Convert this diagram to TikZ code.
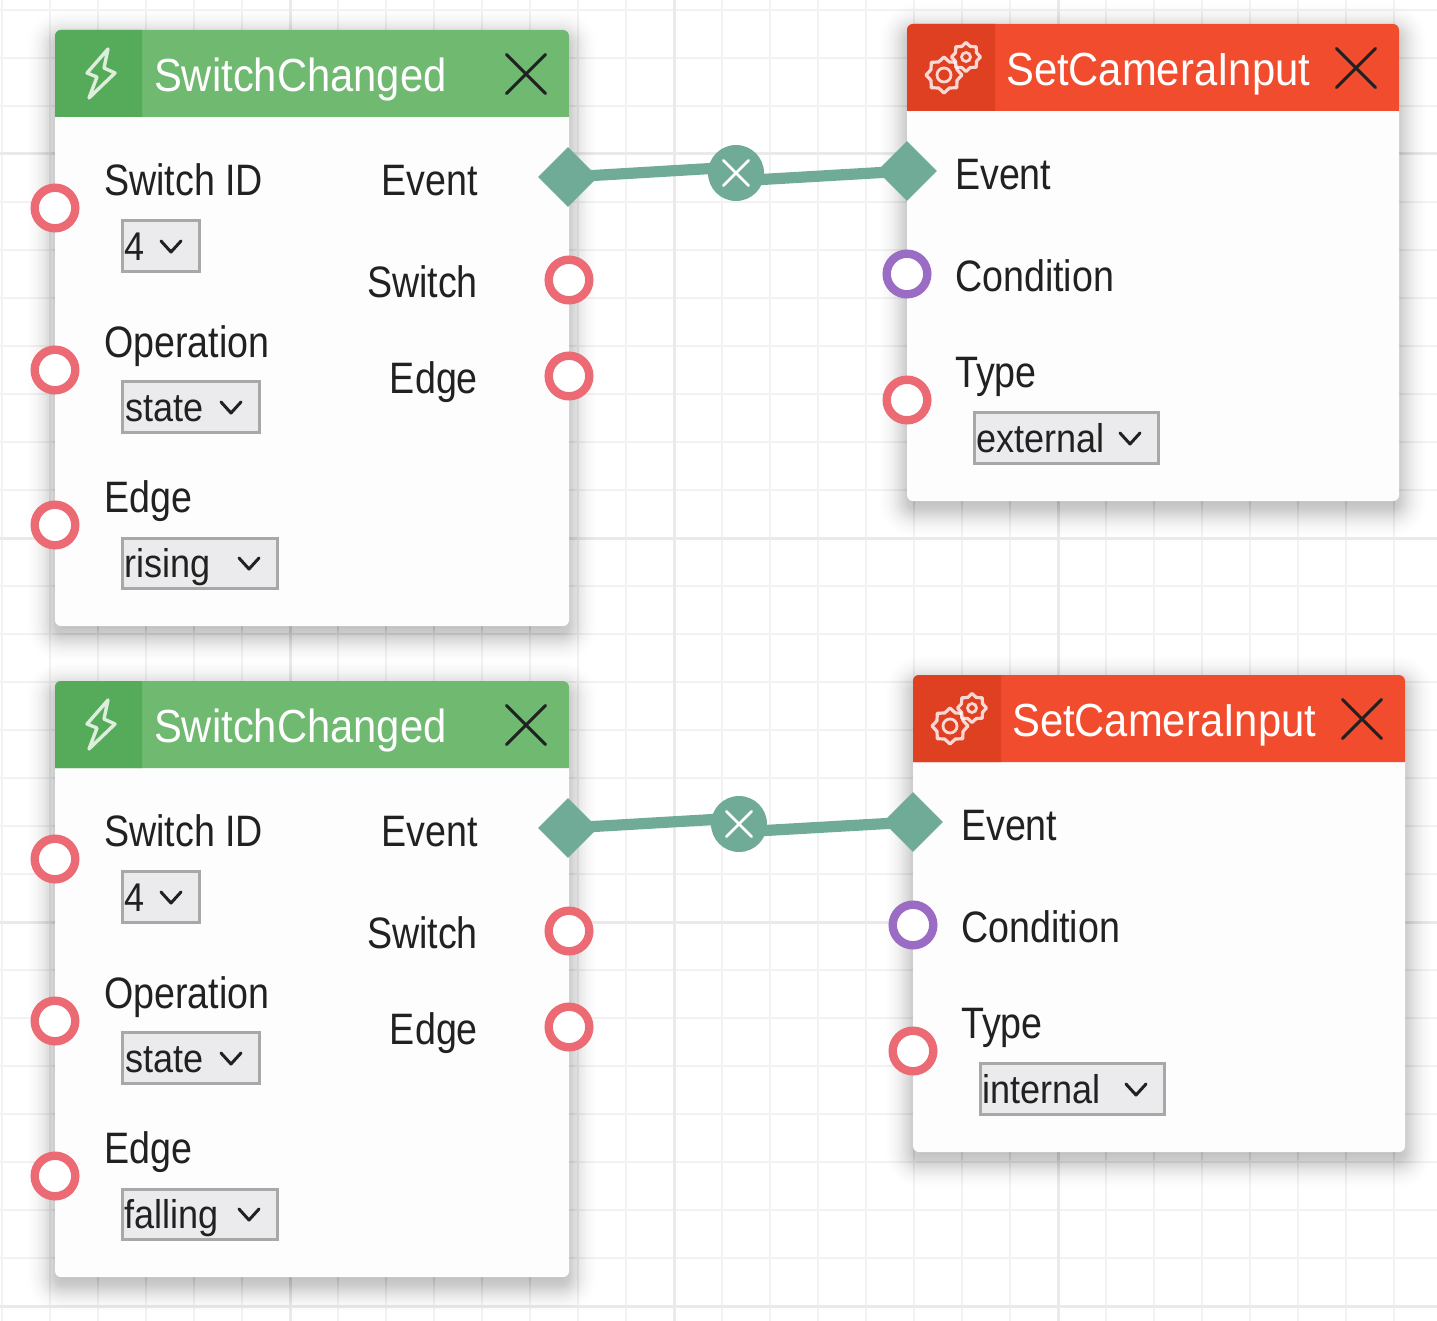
\documentclass[tikz,border=0pt]{standalone}
\usepackage{fontspec}
\setmainfont[FakeStretch=0.9]{Liberation Sans}
\newfontfamily\labelfont[FakeStretch=0.855]{Liberation Sans}
\usetikzlibrary{shapes.geometric,shapes.misc}
\definecolor{gridminor}{HTML}{F2F2F2}
\definecolor{gridmajor}{HTML}{EAEAEA}
\definecolor{eventgreen}{HTML}{6FB971}
\definecolor{eventdark}{HTML}{55AB59}
\definecolor{actionred}{HTML}{F24C2E}
\definecolor{actiondark}{HTML}{E04022}
\definecolor{linkteal}{HTML}{6FAB97}
\definecolor{portred}{HTML}{EC6A74}
\definecolor{portpurple}{HTML}{9A6CC4}
\definecolor{dropfill}{HTML}{EBEBED}
\definecolor{dropline}{HTML}{A8A8A8}
\definecolor{inkblack}{HTML}{212121}
\begin{document}
\begin{tikzpicture}[x=0.5mm,y=-0.5mm]
\useasboundingbox (0,0) rectangle (1437,1321);
\clip (0,0) rectangle (1437,1321);
\tikzstyle{every node}+=[inner sep=0pt]
\tikzstyle{titletext}=[anchor=base west,text=white,font=\fontsize{66}{70}\selectfont]
\tikzstyle{lefttext}=[anchor=base west,text=inkblack,font=\labelfont\fontsize{62.6}{70}\selectfont]
\tikzstyle{righttext}=[anchor=base east,text=inkblack,font=\labelfont\fontsize{62.6}{70}\selectfont]
\tikzstyle{droptext}=[anchor=base west,text=inkblack,font=\fontsize{57}{60}\selectfont]
\tikzstyle{blockbody}=[fill=white,fill opacity=.985,rounded corners=3mm]
\tikzstyle{dropbox}=[fill=dropfill,draw=dropline,line width=1.5mm]
\tikzstyle{chevron}=[draw=inkblack,line width=1.5mm,line cap=round,line join=round]
\tikzstyle{closemark}=[cross out,draw=inkblack,line width=1.5mm,line cap=round,minimum size=18mm]
\tikzstyle{redport}=[circle,draw=portred,fill=white,line width=4.2mm,minimum size=20.3mm]
\tikzstyle{purpleport}=[circle,draw=portpurple,fill=white,line width=4.2mm,minimum size=20.3mm]
\tikzstyle{eventport}=[diamond,fill=linkteal,minimum size=30mm]
\tikzstyle{linkdot}=[circle,fill=linkteal,minimum size=28mm]
\tikzstyle{linkmark}=[cross out,draw=white,line width=1.3mm,line cap=round,minimum size=11.5mm]
\tikzstyle{linkline}=[draw=linkteal,line width=5.6mm]
\tikzstyle{bolt}=[draw=white,line width=1.7mm,line join=round,opacity=.8]
\tikzstyle{gearicon}=[star,star points=8,star point ratio=1.28,draw=white,line width=1.6mm,line join=round,opacity=.8]
\tikzstyle{gearhub}=[circle,draw=white,line width=1.4mm,opacity=.8]
% background grid
\foreach \gx in {2,50,...,1434}
  \draw [gridminor,line width=1.3mm] (\gx,0) -- (\gx,1321);
\foreach \gy in {10,58,...,1306}
  \draw [gridminor,line width=1.3mm] (0,\gy) -- (1437,\gy);
\foreach \gx in {290,674,1058}
  \draw [gridmajor,line width=1.5mm] (\gx,0) -- (\gx,1321);
\foreach \gy in {154,538,922,1306}
  \draw [gridmajor,line width=1.5mm] (0,\gy) -- (1437,\gy);
% block shadows
\foreach \xa/\ya/\xb/\yb in {55/30/569/626,907/24/1399/501,55/681/569/1277,913/675/1405/1152}
  \foreach \s/\layerop in {-6/.03,-3/.028,0/.0255,2/.024,4/.022,6/.021,8/.019,10/.018,12/.016,14/.014,16/.013,18/.011,20/.0095,22/.008,24/.0064,26/.0048,28/.0032,30/.0016}
    \fill [black,opacity=\layerop,rounded corners=\s*0.5mm+4mm] (\xa-\s,\ya-\s+8) rectangle (\xb+\s,\yb+\s+8);
% first event block
\fill [blockbody] (55,30) rectangle (569,626);
\fill [eventgreen] (55,117) [rounded corners=3mm] -- (55,30) -- (569,30) [sharp corners] -- (569,117) -- cycle;
\fill [eventdark] (55,117) [rounded corners=3mm] -- (55,30) [sharp corners] -- (142,30) -- (142,117) -- cycle;
\draw [bolt] (108,49) -- (87,73) -- (97,77) -- (89,98) -- (115,73) -- (104,68) -- cycle;
\node (switchA_title) [titletext] at (154,92) {SwitchChanged};
\node (switchA_close) [closemark] at (526,74) {};
\node (switchA_idlabel) [lefttext] at (104,196) {Switch ID};
\node (switchA_oplabel) [lefttext] at (104,357) {Operation};
\node (switchA_edgelabel) [lefttext] at (104,512) {Edge};
\node (switchA_event) [righttext] at (478,196) {Event};
\node (switchA_switch) [righttext] at (478,297) {Switch};
\node (switchA_edge) [righttext] at (478,393) {Edge};
\node (switchA_idport) [redport] at (55,208) {};
\node (switchA_opport) [redport] at (55,370) {};
\node (switchA_edgeport) [redport] at (55,525) {};
\node (switchA_switchport) [redport] at (569,280) {};
\node (switchA_edgeout) [redport] at (569,376) {};
\node (switchA_eventport) [eventport] at (568,177) {};
\draw [dropbox] (122,220) rectangle (199,271);
\node (switchA_idvalue) [droptext] at (124,260) {4};
\draw [chevron] (161,241) -- (171,252) -- (181,241);
\draw [dropbox] (122,381) rectangle (259,432);
\node (switchA_opvalue) [droptext] at (125,421) {state};
\draw [chevron] (221,402) -- (231,413) -- (241,402);
\draw [dropbox] (122,538) rectangle (277,588);
\node (switchA_edgevalue) [droptext] at (124,577) {rising};
\draw [chevron] (239,558) -- (249,569) -- (259,558);
% first action block
\fill [blockbody] (907,24) rectangle (1399,501);
\fill [actionred] (907,111) [rounded corners=3mm] -- (907,24) -- (1399,24) [sharp corners] -- (1399,111) -- cycle;
\fill [actiondark] (907,111) [rounded corners=3mm] -- (907,24) [sharp corners] -- (995,24) -- (995,111) -- cycle;
\node (cameraA_gearbig) [gearicon,minimum size=18mm] at (944,75) {};
\node (cameraA_gearbighub) [gearhub,minimum size=7mm] at (944,75) {};
\node (cameraA_gearsmall) [gearicon,fill=actiondark,minimum size=14.5mm] at (966,57) {};
\node (cameraA_gearsmallhub) [gearhub,minimum size=4.5mm] at (966,57) {};
\node (cameraA_title) [titletext] at (1006,86) {SetCameraInput};
\node (cameraA_close) [closemark] at (1356,68) {};
\node (cameraA_eventlabel) [lefttext] at (955,190) {Event};
\node (cameraA_condlabel) [lefttext] at (955,291) {Condition};
\node (cameraA_typelabel) [lefttext] at (955,387) {Type};
\node (cameraA_condport) [purpleport] at (907,274) {};
\node (cameraA_typeport) [redport] at (907,400) {};
\node (cameraA_eventport) [eventport] at (907,171) {};
\draw [dropbox] (974,412) rectangle (1158,463);
\node (cameraA_typevalue) [droptext] at (976,452) {external};
\draw [chevron] (1120,433) -- (1130,444) -- (1140,433);
% first link
\node (linkA) [linkdot] at (736,173) {};
\coordinate (linkA_in) at (736,167);
\coordinate (linkA_out) at (736,181);
\draw [linkline] (switchA_eventport.center) -- (linkA_in);
\draw [linkline] (linkA_out) -- (cameraA_eventport.center);
\node (linkA_mark) [linkmark] at (linkA) {};
% second event block
\fill [blockbody] (55,681) rectangle (569,1277);
\fill [eventgreen] (55,768) [rounded corners=3mm] -- (55,681) -- (569,681) [sharp corners] -- (569,768) -- cycle;
\fill [eventdark] (55,768) [rounded corners=3mm] -- (55,681) [sharp corners] -- (142,681) -- (142,768) -- cycle;
\draw [bolt] (108,700) -- (87,724) -- (97,728) -- (89,749) -- (115,724) -- (104,719) -- cycle;
\node (switchB_title) [titletext] at (154,742) {SwitchChanged};
\node (switchB_close) [closemark] at (526,725) {};
\node (switchB_idlabel) [lefttext] at (104,846) {Switch ID};
\node (switchB_oplabel) [lefttext] at (104,1008) {Operation};
\node (switchB_edgelabel) [lefttext] at (104,1163) {Edge};
\node (switchB_event) [righttext] at (478,846) {Event};
\node (switchB_switch) [righttext] at (478,948) {Switch};
\node (switchB_edge) [righttext] at (478,1044) {Edge};
\node (switchB_idport) [redport] at (55,859) {};
\node (switchB_opport) [redport] at (55,1021) {};
\node (switchB_edgeport) [redport] at (55,1176) {};
\node (switchB_switchport) [redport] at (569,931) {};
\node (switchB_edgeout) [redport] at (569,1027) {};
\node (switchB_eventport) [eventport] at (568,828) {};
\draw [dropbox] (122,871) rectangle (199,922);
\node (switchB_idvalue) [droptext] at (124,911) {4};
\draw [chevron] (161,892) -- (171,903) -- (181,892);
\draw [dropbox] (122,1032) rectangle (259,1083);
\node (switchB_opvalue) [droptext] at (125,1072) {state};
\draw [chevron] (221,1053) -- (231,1064) -- (241,1053);
\draw [dropbox] (122,1189) rectangle (277,1239);
\node (switchB_edgevalue) [droptext] at (124,1228) {falling};
\draw [chevron] (239,1209) -- (249,1220) -- (259,1209);
% second action block
\fill [blockbody] (913,675) rectangle (1405,1152);
\fill [actionred] (913,762) [rounded corners=3mm] -- (913,675) -- (1405,675) [sharp corners] -- (1405,762) -- cycle;
\fill [actiondark] (913,762) [rounded corners=3mm] -- (913,675) [sharp corners] -- (1001,675) -- (1001,762) -- cycle;
\node (cameraB_gearbig) [gearicon,minimum size=18mm] at (950,726) {};
\node (cameraB_gearbighub) [gearhub,minimum size=7mm] at (950,726) {};
\node (cameraB_gearsmall) [gearicon,fill=actiondark,minimum size=14.5mm] at (972,708) {};
\node (cameraB_gearsmallhub) [gearhub,minimum size=4.5mm] at (972,708) {};
\node (cameraB_title) [titletext] at (1012,736) {SetCameraInput};
\node (cameraB_close) [closemark] at (1362,719) {};
\node (cameraB_eventlabel) [lefttext] at (961,840) {Event};
\node (cameraB_condlabel) [lefttext] at (961,942) {Condition};
\node (cameraB_typelabel) [lefttext] at (961,1038) {Type};
\node (cameraB_condport) [purpleport] at (913,925) {};
\node (cameraB_typeport) [redport] at (913,1051) {};
\node (cameraB_eventport) [eventport] at (913,822) {};
\draw [dropbox] (980,1063) rectangle (1164,1114);
\node (cameraB_typevalue) [droptext] at (982,1103) {internal};
\draw [chevron] (1126,1084) -- (1136,1095) -- (1146,1084);
% second link
\node (linkB) [linkdot] at (739,824) {};
\coordinate (linkB_in) at (739,818);
\coordinate (linkB_out) at (739,832);
\draw [linkline] (switchB_eventport.center) -- (linkB_in);
\draw [linkline] (linkB_out) -- (cameraB_eventport.center);
\node (linkB_mark) [linkmark] at (linkB) {};
\end{tikzpicture}
\end{document}
